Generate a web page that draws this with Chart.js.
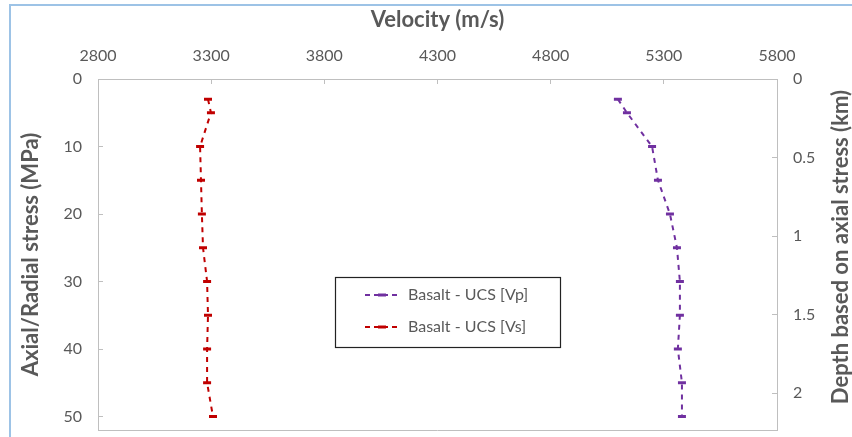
<!DOCTYPE html>
<html>
<head>
<meta charset="utf-8">
<title>Velocity vs stress</title>
<script src="https://cdn.jsdelivr.net/npm/chart.js@4.4.0/dist/chart.umd.min.js"></script>
<style>
    html, body { margin: 0; padding: 0; background: #fff; }
    #wrap { position: relative; width: 852px; height: 437px; overflow: hidden; }
    #frame { position: absolute; left: 9px; top: 4px; right: -2px; bottom: -2px; border-left: 2px solid #9dc3e6; border-top: 2px solid #9dc3e6; pointer-events: none; }
</style>
</head>
<body>
<div id="wrap">
    <canvas id="chartVelocity" width="852" height="437"></canvas>
    <div id="frame"></div>
</div>
<script>
// data
const stressLevels = [3, 5, 10, 15, 20, 25, 30, 35, 40, 45, 50];          // MPa
const velocityVp = [5097, 5137, 5248, 5274, 5327, 5358, 5371, 5371, 5362, 5380, 5380];
const velocityVs = [3286, 3299, 3251, 3255, 3259, 3264, 3282, 3286, 3282, 3282, 3308];
const seriesLabels = ['Basalt - UCS [Vp]', 'Basalt - UCS [Vs]'];
const seriesColors = ['#7030a0', '#c00000'];

const axisTitleTop = 'Velocity (m/s)';
const axisTitleLeft = 'Axial/Radial stress (MPa)';
const axisTitleRight = 'Depth based on axial stress (km)';

const textGray = '#595959';
const lineGray = '#bfbfbf';
const fontName = 'Lato';

function toPoints(xs, ys) {
    let pts = [];
    xs.forEach((v, i) => {
        pts.push({ x: v, y: ys[i] });
    });
    return pts;
}

function makeDataset(label, color, values) {
    return {
        label: label,
        data: toPoints(values, stressLevels),
        showLine: true,
        borderColor: color,
        backgroundColor: color,
        borderWidth: 2,
        borderDash: [5, 5],
        pointStyle: 'line',
        pointRadius: 4,
        pointBorderWidth: 3,
        pointHoverRadius: 4,
        yAxisID: 'y'
    };
}

// bottom edge of the plot box + the right title (drawn bottom-to-top like the left one)
const plotExtras = {
    id: 'plotExtras',
    afterDraw(chart) {
        const ctx = chart.ctx;
        const area = chart.chartArea;
        ctx.save();
        ctx.strokeStyle = lineGray;
        ctx.lineWidth = 1;
        ctx.beginPath();
        ctx.moveTo(area.left, Math.round(area.bottom) + 0.5);
        ctx.lineTo(area.right, Math.round(area.bottom) + 0.5);
        ctx.stroke();

        ctx.translate(841, 90);
        ctx.rotate(-Math.PI / 2);
        ctx.fillStyle = textGray;
        ctx.font = 'bold 22px ' + fontName;
        ctx.textAlign = 'right';
        ctx.textBaseline = 'middle';
        ctx.fillText(axisTitleRight, 0, 0);
        ctx.restore();
    }
};

// boxed legend in the middle of the plot
const boxLegend = {
    id: 'boxLegend',
    afterDraw(chart) {
        const ctx = chart.ctx;
        const x = 335, y = 277, w = 225, h = 70;
        ctx.save();
        ctx.fillStyle = '#fff';
        ctx.fillRect(x, y, w, h);
        ctx.strokeStyle = '#222';
        ctx.lineWidth = 1.2;
        ctx.strokeRect(x + 0.5, y + 0.5, w, h);

        chart.data.datasets.forEach((ds, i) => {
            const rowY = y + 18 + i * 32;
            ctx.strokeStyle = ds.borderColor;
            ctx.lineWidth = 2;
            ctx.setLineDash([5, 4]);
            ctx.beginPath();
            ctx.moveTo(x + 30, rowY);
            ctx.lineTo(x + 64, rowY);
            ctx.stroke();
            ctx.setLineDash([]);
            ctx.lineWidth = 3;
            ctx.beginPath();
            ctx.moveTo(x + 43, rowY);
            ctx.lineTo(x + 51, rowY);
            ctx.stroke();

            ctx.fillStyle = textGray;
            ctx.font = '16px ' + fontName;
            ctx.textAlign = 'left';
            ctx.textBaseline = 'middle';
            ctx.fillText(ds.label, x + 73, rowY);
        });
        ctx.restore();
    }
};

const tickFont = { family: fontName, size: 16 };
const titleFont = { family: fontName, size: 22, weight: 'bold' };

// fixed box sizes so the plot area lands where it is in the picture
function fixWidth(w) {
    return (scale) => {
        scale.width = w;
        scale.paddingTop = 0;
        scale.paddingBottom = 0;
    };
}

var ctx = document.getElementById('chartVelocity');

const chartVelocity = new Chart(ctx, {
    type: 'scatter',
    data: {
        datasets: [
            makeDataset(seriesLabels[0], seriesColors[0], velocityVp),
            makeDataset(seriesLabels[1], seriesColors[1], velocityVs)
        ]
    },
    options: {
        responsive: false,
        animation: false,
        devicePixelRatio: 1,
        layout: { padding: { left: 0, right: 0, top: 0, bottom: 5 } },
        plugins: {
            legend: { display: false },
            tooltip: { enabled: false }
        },
        scales: {
            x: {
                type: 'linear',
                position: 'top',
                min: 2800,
                max: 5800,
                ticks: {
                    stepSize: 500,
                    autoSkip: false,
                    maxRotation: 0,
                    padding: 19,
                    color: textGray,
                    font: tickFont,
                    callback: (v) => String(v)
                },
                grid: { drawOnChartArea: false, tickLength: -5, tickColor: lineGray, color: lineGray },
                border: { color: lineGray },
                title: { display: true, text: axisTitleTop, color: textGray, font: titleFont, padding: { top: 7, bottom: 0 } },
                afterFit: (scale) => {
                    scale.height = 79;
                    scale.paddingLeft = 0;
                    scale.paddingRight = 0;
                }
            },
            y: {
                type: 'linear',
                position: 'left',
                reverse: true,
                min: 0,
                max: 52,
                ticks: {
                    stepSize: 10,
                    includeBounds: false,
                    autoSkip: false,
                    padding: 21,
                    color: textGray,
                    font: tickFont
                },
                grid: { drawOnChartArea: false, tickLength: -5, tickColor: lineGray, color: lineGray },
                border: { color: lineGray },
                title: { display: true, text: axisTitleLeft, color: textGray, font: titleFont, padding: { top: 18, bottom: 0 } },
                afterFit: fixWidth(98)
            },
            y1: {
                type: 'linear',
                position: 'right',
                reverse: true,
                min: 0,
                max: 2.234,
                ticks: {
                    stepSize: 0.5,
                    includeBounds: false,
                    autoSkip: false,
                    padding: 21,
                    color: textGray,
                    font: tickFont,
                    callback: (v) => String(v)
                },
                grid: { drawOnChartArea: false, tickLength: -5, tickColor: lineGray, color: lineGray },
                border: { color: lineGray },
                title: { display: false },
                afterFit: fixWidth(75)
            }
        }
    },
    plugins: [plotExtras, boxLegend]
});
</script>
</body>
</html>
